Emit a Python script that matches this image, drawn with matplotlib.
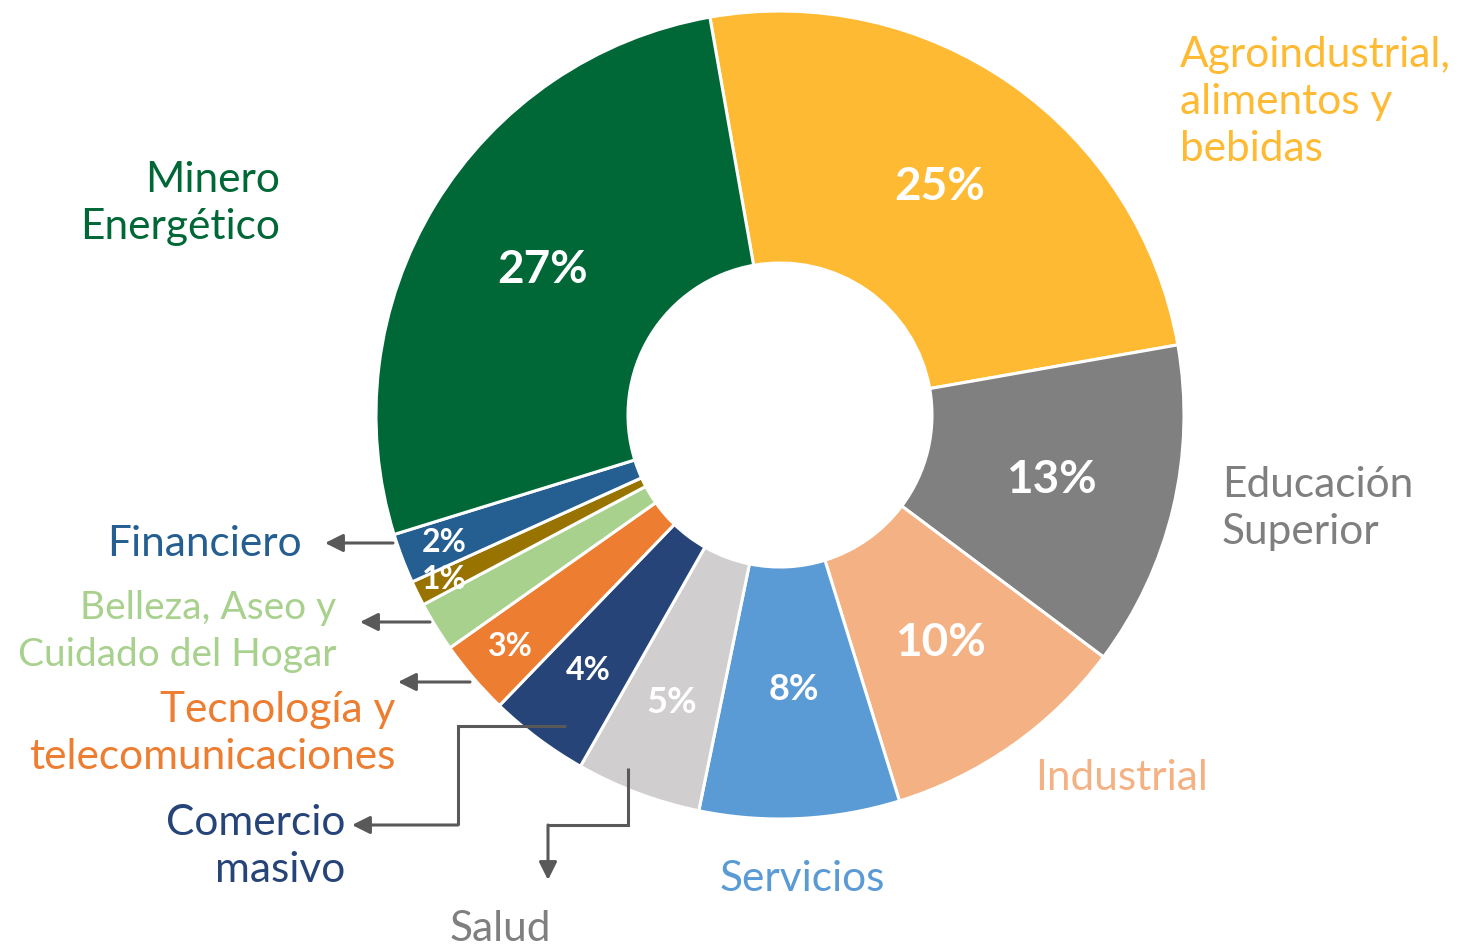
import numpy as np
import matplotlib
matplotlib.use('Agg')
import matplotlib.pyplot as plt

plt.rcParams['font.family'] = ['Lato', 'DejaVu Sans']

# slices, clockwise from the top
sectores = ['Agroindustrial,\nalimentos y\nbebidas', 'Educación\nSuperior', 'Industrial',
            'Servicios', 'Salud', 'Comercio\nmasivo', 'Tecnología y\ntelecomunicaciones',
            'Belleza, Aseo y\nCuidado del Hogar', '', 'Financiero', 'Minero\nEnergético']
valores = [25, 13, 10, 8, 5, 4, 3, 2, 1, 2, 27]
etiquetas = ['25%', '13%', '10%', '8%', '5%', '4%', '3%', '', '1%', '2%', '27%']
colores = ['#FFBA33', '#808080', '#F4B183', '#5B9BD5', '#D0CECE', '#264478',
           '#ED7D31', '#A9D18E', '#997300', '#255E91', '#006837']
colores_texto = ['#FFBA33', '#7F7F7F', '#F4B183', '#5B9BD5', '#7F7F7F', '#264478',
                 '#ED7D31', '#A9D18E', '#997300', '#255E91', '#006837']

W, H = 1465, 946
fig = plt.figure(figsize=(W / 100, H / 100), dpi=100)
ax = fig.add_axes([0, 0, 1, 1])

def py(y):
    # pixel row -> data y
    return H - y

cx, cy, R = 780, py(415), 404
wedges, _ = ax.pie(valores, colors=colores, startangle=100, counterclock=False,
                   center=(cx, cy), radius=R, frame=True,
                   wedgeprops=dict(width=R - 152, edgecolor='white', linewidth=2.2))
ax.set_xlim(0, W)
ax.set_ylim(0, H)
ax.set_aspect('equal')
ax.axis('off')

# percentage labels inside the ring
dist = [0.69, 0.69, 0.69, 0.68, 0.76, 0.79, 0.88, 0.9, 0.925, 0.89, 0.69]
tam = [33, 33, 33, 26, 26, 23, 23, 23, 23, 23, 33]
for w, lab, d, s in zip(wedges, etiquetas, dist, tam):
    if not lab:
        continue
    ang = np.deg2rad((w.theta1 + w.theta2) / 2)
    ax.text(cx + d * R * np.cos(ang), cy + d * R * np.sin(ang), lab,
            ha='center', va='center', color='white', fontsize=s, fontweight='bold')

# category labels: (x, first baseline, alignment, size)
pos = [(1180, 67, 'left', 30.5), (1222, 497, 'left', 30.5), (1035, 790, 'left', 30.5),
       (802, 891, 'center', 30.5), (500, 941, 'center', 30.5), (345, 835, 'right', 30.5),
       (395, 722, 'right', 30.5), (336, 619, 'right', 28), None,
       (302, 556, 'right', 30.5), (280, 192, 'right', 30.5)]
for nombre, p, c in zip(sectores, pos, colores_texto):
    if p is None or not nombre:
        continue
    x, y0, ha, fs = p
    for i, linea in enumerate(nombre.split('\n')):
        ax.text(x, py(y0 + 47 * i), linea, ha=ha, va='baseline',
                color=c, fontsize=fs)

# connector arrows
gris = '#595959'
flecha = dict(arrowstyle='-|>,head_length=0.6,head_width=0.3', color=gris,
              lw=2.2, shrinkA=0, shrinkB=0, mutation_scale=18)
rutas = [
    [(393, 543), (325, 543)],
    [(430, 622), (360, 622)],
    [(470, 682), (398, 682)],
    [(566, 726), (458, 726), (458, 825), (352, 825)],
    [(628, 768), (628, 825), (548, 825), (548, 880)],
]
for r in rutas:
    xs = [p[0] for p in r[:-1]]
    ys = [py(p[1]) for p in r[:-1]]
    if len(xs) > 1:
        ax.plot(xs, ys, color=gris, lw=2.2, solid_capstyle='butt', solid_joinstyle='miter')
    ax.annotate('', xy=(r[-1][0], py(r[-1][1])), xytext=(r[-2][0], py(r[-2][1])),
                arrowprops=flecha)

fig.savefig('out.png', dpi=100, facecolor='white')
